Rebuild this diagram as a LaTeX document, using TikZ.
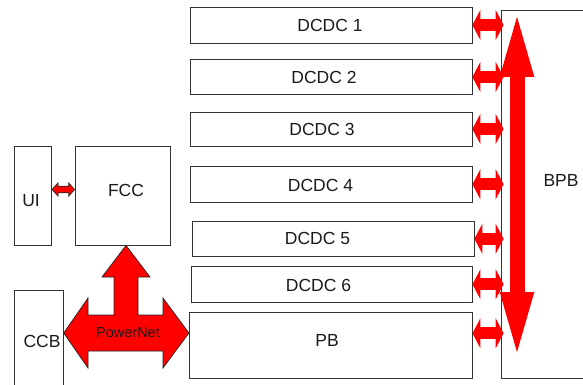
\documentclass[tikz,border=0pt]{standalone}
\usepackage{fontspec}
\setmainfont{Liberation Sans}
\usetikzlibrary{calc,arrows.meta}

\definecolor{edge}{HTML}{333333}
\definecolor{ink}{HTML}{1A1A1A}
\definecolor{bus}{HTML}{FF0000}

\tikzset{
  box/.style={draw=edge, line width=0.8pt, fill=white, inner sep=0pt},
  lbl/.style={text=ink, font=\fontsize{17.5}{20}\selectfont, inner sep=0pt},
  smalllbl/.style={text=ink, font=\fontsize{14.5}{17}\selectfont, inner sep=0pt},
  linkarrow/.style={bus, line width=12pt,
    {Triangle[length=8pt,width=30pt]}-{Triangle[length=8pt,width=30pt]}},
  busarrow/.style={bus, line width=15pt,
    {Triangle[length=70pt,width=29pt]}-{Triangle[length=70pt,width=29pt]}},
  outlined/.style={fill=bus, draw=black!85, line width=0.7pt, line join=miter},
}

\begin{document}
\begin{tikzpicture}[x=1pt,y=-1pt]
\path[use as bounding box, clip] (0,0) rectangle (583,385);

% converter boxes
\node[box, minimum width=282pt,   minimum height=36pt]   (d1) at (331,25)    {};
\node[box, minimum width=282pt,   minimum height=35.4pt] (d2) at (331,77)    {};
\node[box, minimum width=282pt,   minimum height=34pt]   (d3) at (331,129)   {};
\node[box, minimum width=282pt,   minimum height=35.3pt] (d4) at (331,184.3) {};
\node[box, minimum width=282pt,   minimum height=35.7pt] (d5) at (333,238.8) {};
\node[box, minimum width=280.7pt, minimum height=35.3pt] (d6) at (331.7,284.3) {};
\node[box, minimum width=282.7pt, minimum height=66.7pt] (pb) at (330.7,345.3) {};

\node[lbl] (t1) at (330,25)    {DCDC 1};
\node[lbl] (t2) at (324,77)    {DCDC 2};
\node[lbl] (t3) at (322,129)   {DCDC 3};
\node[lbl] (t4) at (320.5,185) {DCDC 4};
\node[lbl] (t5) at (317.5,238.5) {DCDC 5};
\node[lbl] (t6) at (318.5,285) {DCDC 6};
\node[lbl] (tpb) at (327,340)  {PB};

% backplane board
\node[box, minimum width=140pt, minimum height=368.7pt] (bpb) at (571,194.35) {};
\node[lbl] (tbpb) at (561,180) {BPB};

% left-hand units
\node[box, minimum width=37.7pt, minimum height=99pt] (ui)  at (32.85,195.5) {};
\node[box, minimum width=95.7pt, minimum height=99pt] (fcc) at (122.85,195.5) {};
\node[box, minimum width=49.3pt, minimum height=110pt] (ccb) at (38.65,345) {};
\node[lbl] (tui)  at (31,201)  {UI};
\node[lbl] (tfcc) at (126,190) {FCC};
\node[lbl] (tccb) at (42,341)  {CCB};

% links from each board onto the backplane
\foreach \n in {d1,d2,d3,d4,d5,d6}{
  \draw[linkarrow] (\n.east) -- ($(bpb.west |- \n.east)+(3,0)$);
}
\coordinate (pbport) at ($(pb.east)+(0,-12)$);
\draw[linkarrow] (pbport) -- ($(bpb.west |- pbport)+(3,0)$);

% backplane bus
\coordinate (bustop) at (517,7);
\coordinate (busbot) at (517,362);
\draw[busarrow] (busbot) -- (bustop);

% UI <-> FCC link
\coordinate (uL) at (ui.east |- 0,189.5);
\coordinate (uR) at (fcc.west |- 0,189.5);
\draw[outlined] (uL) -- ++(6,-6.7) -- ++(0,3.4) -- ($(uR)+(-6,-3.3)$)
  -- ++(0,-3.4) -- (uR) -- ++(-6,6.7) -- ++(0,-3.4)
  -- ($(uL)+(6,3.3)$) -- ++(0,3.4) -- cycle;

% PowerNet distribution between CCB, FCC and PB
\coordinate (pn) at (126,333);
\draw[outlined] (ccb.east |- pn)
  -- ($(pn)+(-38,-35)$) -- ($(pn)+(-38,-18)$) -- ($(pn)+(-12,-18)$)
  -- ($(pn)+(-12,-56)$) -- ($(pn)+(-24,-56)$) -- (pn |- fcc.south)
  -- ($(pn)+(24,-56)$) -- ($(pn)+(12,-56)$) -- ($(pn)+(12,-18)$)
  -- ($(pn)+(37,-18)$) -- ($(pn)+(37,-35)$) -- (pb.west |- pn)
  -- ($(pn)+(37,35)$) -- ($(pn)+(37,18)$) -- ($(pn)+(-38,18)$)
  -- ($(pn)+(-38,35)$) -- cycle;
\node[smalllbl] (tpn) at (128,333) {PowerNet};
\end{tikzpicture}
\end{document}
